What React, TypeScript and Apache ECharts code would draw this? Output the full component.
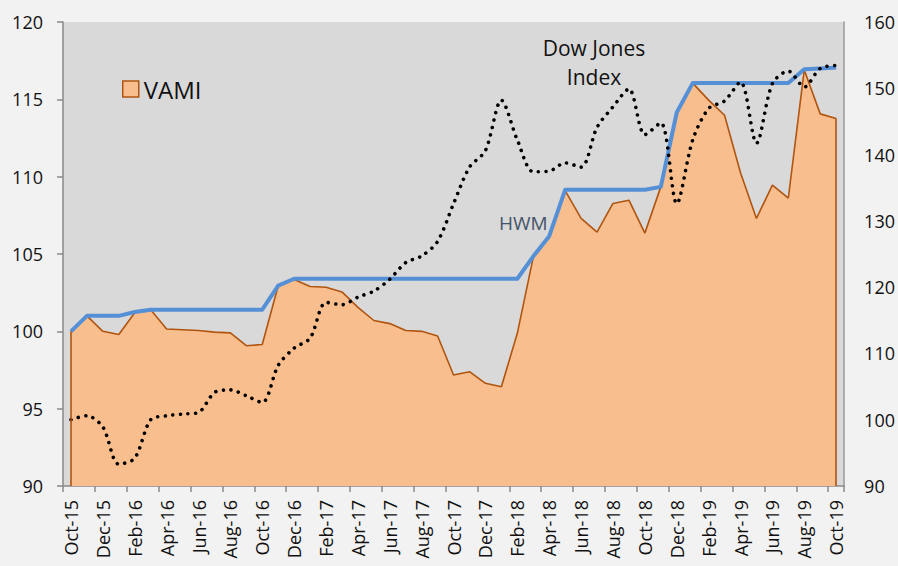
import React, { useEffect, useRef } from "react";
import * as echarts from "echarts";

const months = [
  "Oct-15", "Nov-15", "Dec-15", "Jan-16", "Feb-16", "Mar-16", "Apr-16", "May-16", "Jun-16", "Jul-16",
  "Aug-16", "Sep-16", "Oct-16", "Nov-16", "Dec-16", "Jan-17", "Feb-17", "Mar-17", "Apr-17", "May-17",
  "Jun-17", "Jul-17", "Aug-17", "Sep-17", "Oct-17", "Nov-17", "Dec-17", "Jan-18", "Feb-18", "Mar-18",
  "Apr-18", "May-18", "Jun-18", "Jul-18", "Aug-18", "Sep-18", "Oct-18", "Nov-18", "Dec-18", "Jan-19",
  "Feb-19", "Mar-19", "Apr-19", "May-19", "Jun-19", "Jul-19", "Aug-19", "Sep-19", "Oct-19",
];

const vami = [
  100.0, 101.0, 100.0, 99.8, 101.2, 101.4, 100.15, 100.1, 100.05, 99.95,
  99.9, 99.07, 99.15, 102.95, 103.35, 102.9, 102.85, 102.55, 101.55, 100.7,
  100.5, 100.05, 100.0, 99.7, 97.18, 97.39, 96.64, 96.42, 99.87, 104.8,
  106.1, 109.1, 107.3, 106.42, 108.27, 108.48, 106.35, 109.34, 114.15, 116.05,
  114.95, 113.97, 110.25, 107.3, 109.45, 108.62, 116.9, 114.06, 113.76,
];

const hwm = [
  100.0, 101.0, 101.0, 101.0, 101.25, 101.4, 101.4, 101.4, 101.4, 101.4,
  101.4, 101.4, 101.4, 102.95, 103.4, 103.4, 103.4, 103.4, 103.4, 103.4,
  103.4, 103.4, 103.4, 103.4, 103.4, 103.4, 103.4, 103.4, 103.4, 104.85,
  106.15, 109.15, 109.15, 109.15, 109.15, 109.15, 109.15, 109.34, 114.15, 116.05,
  116.05, 116.05, 116.05, 116.05, 116.05, 116.05, 116.95, 117.0, 117.05,
];

const dowJones = [
  100.0, 100.6, 98.9, 93.3, 94.2, 100.0, 100.6, 100.86, 101.1, 104.1,
  104.5, 103.6, 102.6, 108.2, 110.8, 112.3, 117.7, 117.35, 118.5, 119.4,
  121.2, 123.7, 124.7, 126.9, 132.6, 138.1, 140.6, 148.2, 142.2, 137.4,
  137.5, 138.75, 138.1, 144.1, 147.2, 149.9, 143.0, 144.8, 132.6, 142.2,
  146.95, 148.1, 150.95, 141.7, 150.7, 152.6, 150.2, 153.0, 153.45,
];

const leftAxis = { min: 90, max: 120, interval: 5 };
const rightAxis = { min: 90, max: 160, interval: 10 };

const FONT = "'Open Sans', 'Noto Sans', sans-serif";
const FILL = "#f9be8e";
const EDGE = "#b0540f";
const BLUE = "#5590d6";

export default function App() {
  const ref = useRef<HTMLDivElement>(null);

  useEffect(() => {
    if (!ref.current) return;
    const chart = echarts.init(ref.current, undefined, { renderer: "svg" });
    const first = months[0];
    const last = months[months.length - 1];
    chart.setOption({
      animation: false,
      backgroundColor: "#f2f2f2",
      textStyle: { fontFamily: FONT },
      grid: {
        left: 63,
        right: 52,
        top: 22,
        bottom: 80,
        show: true,
        backgroundColor: "#d9d9d9",
        borderWidth: 0,
      },
      legend: {
        left: 122,
        top: 77,
        padding: 0,
        itemWidth: 16,
        itemHeight: 16,
        textStyle: { fontSize: 24, color: "#111", fontFamily: FONT },
        data: [
          {
            name: "VAMI",
            icon: "rect",
            itemStyle: { color: FILL, borderColor: EDGE, borderWidth: 1.5 },
          },
        ],
      },
      xAxis: {
        type: "category",
        data: months,
        boundaryGap: true,
        axisLine: { show: true, lineStyle: { color: "#898989", width: 1.5 } },
        axisTick: { show: true, interval: 1, length: 6, lineStyle: { color: "#898989", width: 1.5 } },
        axisLabel: {
          interval: 1,
          rotate: 90,
          margin: 14,
          fontSize: 18,
          color: "#111",
          fontFamily: FONT,
        },
        splitLine: { show: false },
      },
      yAxis: [
        {
          type: "value",
          min: leftAxis.min,
          max: leftAxis.max,
          interval: leftAxis.interval,
          axisLine: { show: true, lineStyle: { color: "#898989", width: 1.5 } },
          axisTick: { show: true, length: 6, lineStyle: { color: "#898989", width: 1.5 } },
          axisLabel: { margin: 20, fontSize: 18, color: "#111", fontFamily: FONT },
          splitLine: { show: false },
        },
        {
          type: "value",
          position: "right",
          min: rightAxis.min,
          max: rightAxis.max,
          interval: rightAxis.interval,
          axisLine: { show: true, lineStyle: { color: "#9a9a9a", width: 1.5 } },
          axisTick: { show: false },
          axisLabel: { margin: 20, fontSize: 18, color: "#111", fontFamily: FONT },
          splitLine: { show: false },
        },
      ],
      series: [
        {
          name: "VAMI",
          type: "line",
          data: vami,
          yAxisIndex: 0,
          symbol: "none",
          z: 2,
          lineStyle: { color: EDGE, width: 1.6 },
          itemStyle: { color: FILL },
          areaStyle: { color: FILL, opacity: 1, origin: "start" },
          markLine: {
            silent: true,
            symbol: ["none", "none"],
            label: { show: false },
            lineStyle: { color: EDGE, width: 1.6, type: "solid" },
            data: [
              [{ coord: [first, leftAxis.min] }, { coord: [first, vami[0]] }],
              [{ coord: [last, leftAxis.min] }, { coord: [last, vami[vami.length - 1]] }],
            ],
          },
        },
        {
          name: "HWM",
          type: "line",
          data: hwm,
          yAxisIndex: 0,
          symbol: "none",
          z: 3,
          lineStyle: { color: BLUE, width: 4, join: "round" },
          itemStyle: { color: BLUE },
        },
        {
          name: "Dow Jones Index",
          type: "line",
          data: dowJones,
          yAxisIndex: 1,
          symbol: "none",
          smooth: 0.3,
          z: 4,
          lineStyle: { color: "#000", width: 3.6, type: [0.01, 7.6], cap: "round" },
          itemStyle: { color: "#000" },
        },
      ],
      graphic: [
        {
          type: "text",
          x: 594,
          y: 33,
          style: {
            text: "Dow Jones\nIndex",
            align: "center",
            verticalAlign: "top",
            font: `21px ${FONT}`,
            lineHeight: 29,
            fill: "#111",
          },
          z: 10,
        },
        {
          type: "text",
          x: 499,
          y: 213,
          style: {
            text: "HWM",
            verticalAlign: "top",
            font: `19px ${FONT}`,
            fill: "#44546a",
          },
          z: 10,
        },
      ],
    });
    return () => chart.dispose();
  }, []);

  return (
    <div
      ref={ref}
      style={{ position: "absolute", left: 0, top: 0, width: 898, height: 566 }}
    />
  );
}
